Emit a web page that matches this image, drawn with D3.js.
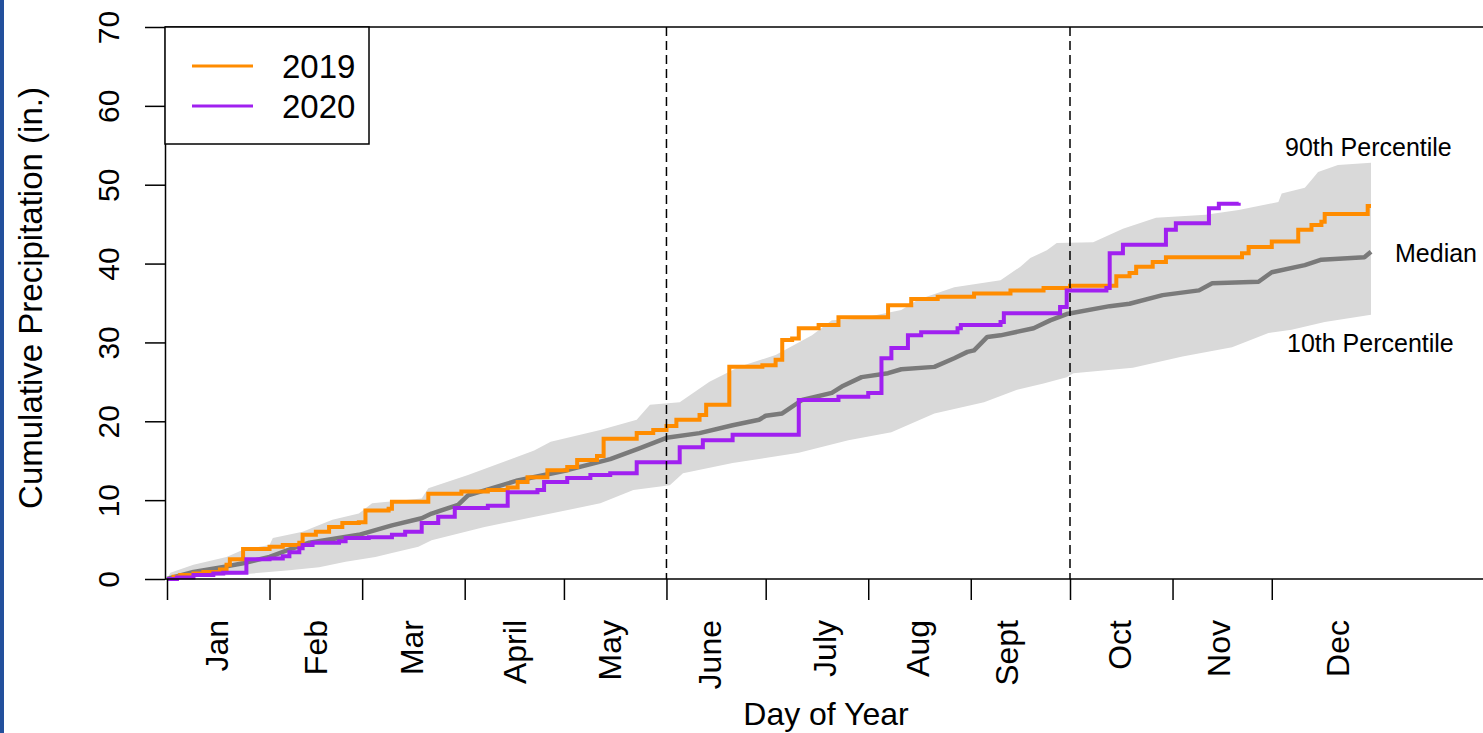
<!DOCTYPE html>
<meta charset="utf-8">
<html>
<head>
    <title>Cumulative Precipitation</title>
</head>
<style>
    *{ margin:0; padding:0;}
    body{ background:#fff; overflow:hidden;}
    svg text{ font-family:'Liberation Sans', Arial, sans-serif; fill:#000;}
</style>
<script src="https://cdn.jsdelivr.net/npm/d3@7"></script>
<body>
<div id="chartContainer"></div>
<script type="text/javascript">

    // month ticks (day of year where each month starts) and label spots
    var monthNames = ["Jan", "Feb", "Mar", "April", "May", "June", "July", "Aug", "Sept", "Oct", "Nov", "Dec"];
    var monthStartDays = [1, 32, 60, 91, 121, 152, 182, 213, 244, 274, 305, 335];
    var monthLabelDays = [16, 46, 75, 106, 135, 165, 200, 228, 255, 289, 319, 355];
    var seasonLineDays = [152, 274];
    var yTicks = [0, 10, 20, 30, 40, 50, 60, 70];

    // [day of year, cumulative inches]
    var precip2019 = [[1,0],[3,0.3],[5,0.5],[9,0.7],[12,0.9],[17,1.2],[19,1.8],[20,2.5],[24,3.8],[32,4.1],[36,4.3],[41,4.6],
        [42,5.6],[46,6.0],[50,6.6],[54,7.1],[59,7.2],[61,8.7],[68,8.9],[69,9.8],[80,10.8],[90,11.1],[98,11.3],[104,11.6],
        [107,12.3],[110,12.9],[116,13.8],[122,14.2],[125,15.1],[131,15.6],[133,17.8],[143,18.5],[148,18.9],[152,19.4],
        [155,20.2],[162,20.8],[164,22.1],[171,26.9],[181,27.1],[185,27.8],[187,30.3],[190,30.5],[192,31.8],[198,32.2],
        [204,33.2],[219,34.7],[226,35.5],[234,35.8],[245,36.2],[256,36.6],[266,36.9],[274,37.2],[288,38.4],[292,38.8],
        [294,39.6],[299,40.2],[303,40.8],[326,41.3],[328,42.1],[335,42.8],[343,44.3],[347,44.9],[350,45.3],[351,46.3],
        [364,47.3],[365,47.3]];

    var precip2020 = [[1,0],[4,0.2],[9,0.5],[15,0.7],[18,0.8],[25,2.5],[32,2.6],[36,2.9],[38,3.4],[41,3.9],[42,4.3],
        [45,4.6],[53,4.8],[55,5.2],[62,5.3],[69,5.6],[73,6.0],[78,7.1],[83,7.9],[88,9.0],[98,9.3],[104,11.0],[113,11.3],
        [115,12.3],[122,12.8],[129,13.2],[135,13.4],[143,14.8],[156,16.7],[163,17.6],[172,18.3],[192,22.7],[204,23.1],
        [213,23.6],[217,28.0],[220,29.3],[225,30.9],[229,31.3],[240,31.8],[241,32.2],[253,32.6],[254,33.7],[271,34.5],
        [273,36.6],[285,36.9],[286,41.3],[290,42.4],[303,44.3],[306,45.1],[316,47.0],[319,47.6],[325,47.7]];

    var medianPrecip = [[1,0],[9,0.9],[19,1.6],[24,2.0],[32,2.8],[39,3.9],[44,4.6],[59,5.6],[69,6.8],[78,7.7],[81,8.3],
        [89,9.4],[92,10.6],[107,12.5],[122,13.8],[135,15.2],[144,16.6],[152,17.9],[162,18.5],[172,19.5],[180,20.2],
        [182,20.7],[187,21.0],[193,22.7],[202,23.6],[205,24.4],[211,25.6],[219,26.1],[223,26.6],[233,26.9],[239,28.0],
        [243,28.8],[245,29.0],[249,30.7],[253,30.9],[263,31.8],[268,32.8],[273,33.6],[286,34.6],[292,34.9],[302,36.0],
        [313,36.6],[317,37.5],[331,37.7],[335,38.9],[345,39.8],[350,40.5],[363,40.8],[365,41.5]];

    var pct90 = [[1,0],[2,0.8],[9,1.8],[19,2.8],[24,3.7],[32,4.3],[33,5.2],[42,6.0],[51,7.5],[59,8.3],[63,9.6],[78,10.2],
        [80,11.5],[92,13.2],[112,16.3],[117,17.4],[132,18.9],[143,20.2],[147,22.1],[156,22.4],[165,25.0],[174,26.9],
        [185,28.4],[196,30.9],[202,32.8],[210,33.0],[223,34.1],[228,35.4],[239,37.0],[253,37.9],[259,39.6],[262,40.7],
        [267,41.7],[270,42.6],[281,42.7],[290,44.4],[300,45.8],[315,46.2],[325,46.8],[337,47.8],[338,48.9],[345,49.6],
        [347,50.6],[349,51.6],[355,52.5],[365,52.8]];

    var pct10 = [[1,0],[24,0.6],[38,1.1],[47,1.5],[55,2.2],[64,2.8],[69,3.3],[77,4.1],[81,4.9],[97,6.6],[117,8.3],
        [132,9.6],[142,11.3],[153,11.9],[157,13.4],[172,14.7],[192,16.0],[207,17.6],[220,18.6],[233,21.0],[248,22.4],
        [258,24.0],[266,24.8],[273,25.6],[275,26.1],[293,26.8],[308,28.2],[323,29.4],[334,31.2],[341,31.6],[351,32.6],
        [365,33.5]];

    var width = 1483, height = 733;
    var plotLeft = 165, plotTop = 27, plotBottom = 579;

    var svg = d3.select("#chartContainer").append("svg")
            .attr("width", width)
            .attr("height", height);

    svg.append("rect").attr("width", width).attr("height", height).attr("fill", "#fff");
    // blue frame edge on the left of the screenshot
    svg.append("rect").attr("x", 0).attr("y", 0).attr("width", 4).attr("height", height).attr("fill", "#23509c");

    var x = d3.scaleLinear().domain([1, 365]).range([167, 1371]);
    var y = d3.scaleLinear().domain([0, 70]).range([plotBottom, plotTop]);

    var plainLine = d3.line()
            .x(function (d) { return x(d[0]); })
            .y(function (d) { return y(d[1]); });

    var stepLine = d3.line()
            .curve(d3.curveStepAfter)
            .x(function (d) { return x(d[0]); })
            .y(function (d) { return y(d[1]); });

    // 10th-90th percentile band: upper edge out, lower edge back
    var bandOutline = pct90.concat(pct10.slice().reverse());
    svg.append("path")
            .datum(bandOutline)
            .attr("fill", "#d9d9d9")
            .attr("stroke", "none")
            .attr("d", function (d) { return plainLine(d) + "Z"; });

    svg.append("path").datum(medianPrecip)
            .attr("fill", "none").attr("stroke", "#7a7a7a").attr("stroke-width", 4.5)
            .attr("stroke-linejoin", "round")
            .attr("d", plainLine);

    svg.append("path").datum(precip2019)
            .attr("fill", "none").attr("stroke", "#ff8c00").attr("stroke-width", 4)
            .attr("d", stepLine);

    svg.append("path").datum(precip2020)
            .attr("fill", "none").attr("stroke", "#a020f0").attr("stroke-width", 4)
            .attr("d", stepLine);

    // dashed season markers
    svg.selectAll(".season").data(seasonLineDays).enter().append("line")
            .attr("class", "season")
            .attr("x1", function (d) { return x(d); }).attr("x2", function (d) { return x(d); })
            .attr("y1", plotTop).attr("y2", plotBottom)
            .attr("stroke", "#000").attr("stroke-width", 1.5)
            .attr("stroke-dasharray", "9,5");

    // frame: top and bottom lines run off the right edge
    svg.append("line").attr("x1", plotLeft).attr("x2", width).attr("y1", plotTop).attr("y2", plotTop)
            .attr("stroke", "#000").attr("stroke-width", 1.5);
    svg.append("line").attr("x1", plotLeft).attr("x2", width).attr("y1", plotBottom).attr("y2", plotBottom)
            .attr("stroke", "#000").attr("stroke-width", 1.5);

    // y axis
    var yAxis = svg.append("g")
            .attr("transform", "translate(" + plotLeft + ",0)")
            .call(d3.axisLeft(y).tickValues(yTicks).tickSize(20).tickSizeOuter(0));
    yAxis.select(".domain").attr("stroke-width", 1.5);
    yAxis.selectAll(".tick line").attr("stroke-width", 1.5);
    yAxis.selectAll(".tick text")
            .attr("transform", "rotate(-90)")
            .attr("x", 0).attr("y", -46).attr("dy", 0)
            .attr("text-anchor", "middle")
            .style("font-size", "30px")
            .style("font-family", "'Liberation Sans', Arial, sans-serif");

    // x axis ticks at month starts
    var xAxis = svg.append("g")
            .attr("transform", "translate(0," + plotBottom + ")")
            .call(d3.axisBottom(x).tickValues(monthStartDays).tickSize(21).tickSizeOuter(0).tickFormat(""));
    xAxis.select(".domain").remove();
    xAxis.selectAll(".tick line").attr("stroke-width", 1.5);

    svg.selectAll(".month").data(monthNames).enter().append("text")
            .attr("class", "month")
            .attr("transform", function (d, i) { return "translate(" + x(monthLabelDays[i]) + ",620) rotate(-90)"; })
            .attr("text-anchor", "end")
            .attr("dy", "0.35em")
            .style("font-size", "32px")
            .text(function (d) { return d; });

    svg.append("text")
            .attr("x", 826).attr("y", 725)
            .attr("text-anchor", "middle")
            .style("font-size", "32px")
            .text("Day of Year");

    svg.append("text")
            .attr("transform", "translate(42,298) rotate(-90)")
            .attr("text-anchor", "middle")
            .style("font-size", "33px")
            .text("Cumulative Precipitation (in.)");

    // right side annotations
    svg.append("text").attr("x", 1285).attr("y", 156).style("font-size", "25px").text("90th Percentile");
    svg.append("text").attr("x", 1395).attr("y", 262).style("font-size", "25px").text("Median");
    svg.append("text").attr("x", 1287).attr("y", 352).style("font-size", "25px").text("10th Percentile");

    // legend
    var legend = svg.append("g");
    legend.append("rect")
            .attr("x", plotLeft).attr("y", plotTop).attr("width", 204).attr("height", 117)
            .attr("fill", "#fff").attr("stroke", "#000").attr("stroke-width", 1.5);
    var legendItems = [["2019", "#ff8c00"], ["2020", "#a020f0"]];
    legendItems.forEach(function (d, i) {
        var ly = 66 + i * 40;
        legend.append("line").attr("x1", 192).attr("x2", 253).attr("y1", ly).attr("y2", ly)
                .attr("stroke", d[1]).attr("stroke-width", 3);
        legend.append("text").attr("x", 282).attr("y", ly + 12)
                .style("font-size", "33px").text(d[0]);
    });

</script>
</body>
</html>
